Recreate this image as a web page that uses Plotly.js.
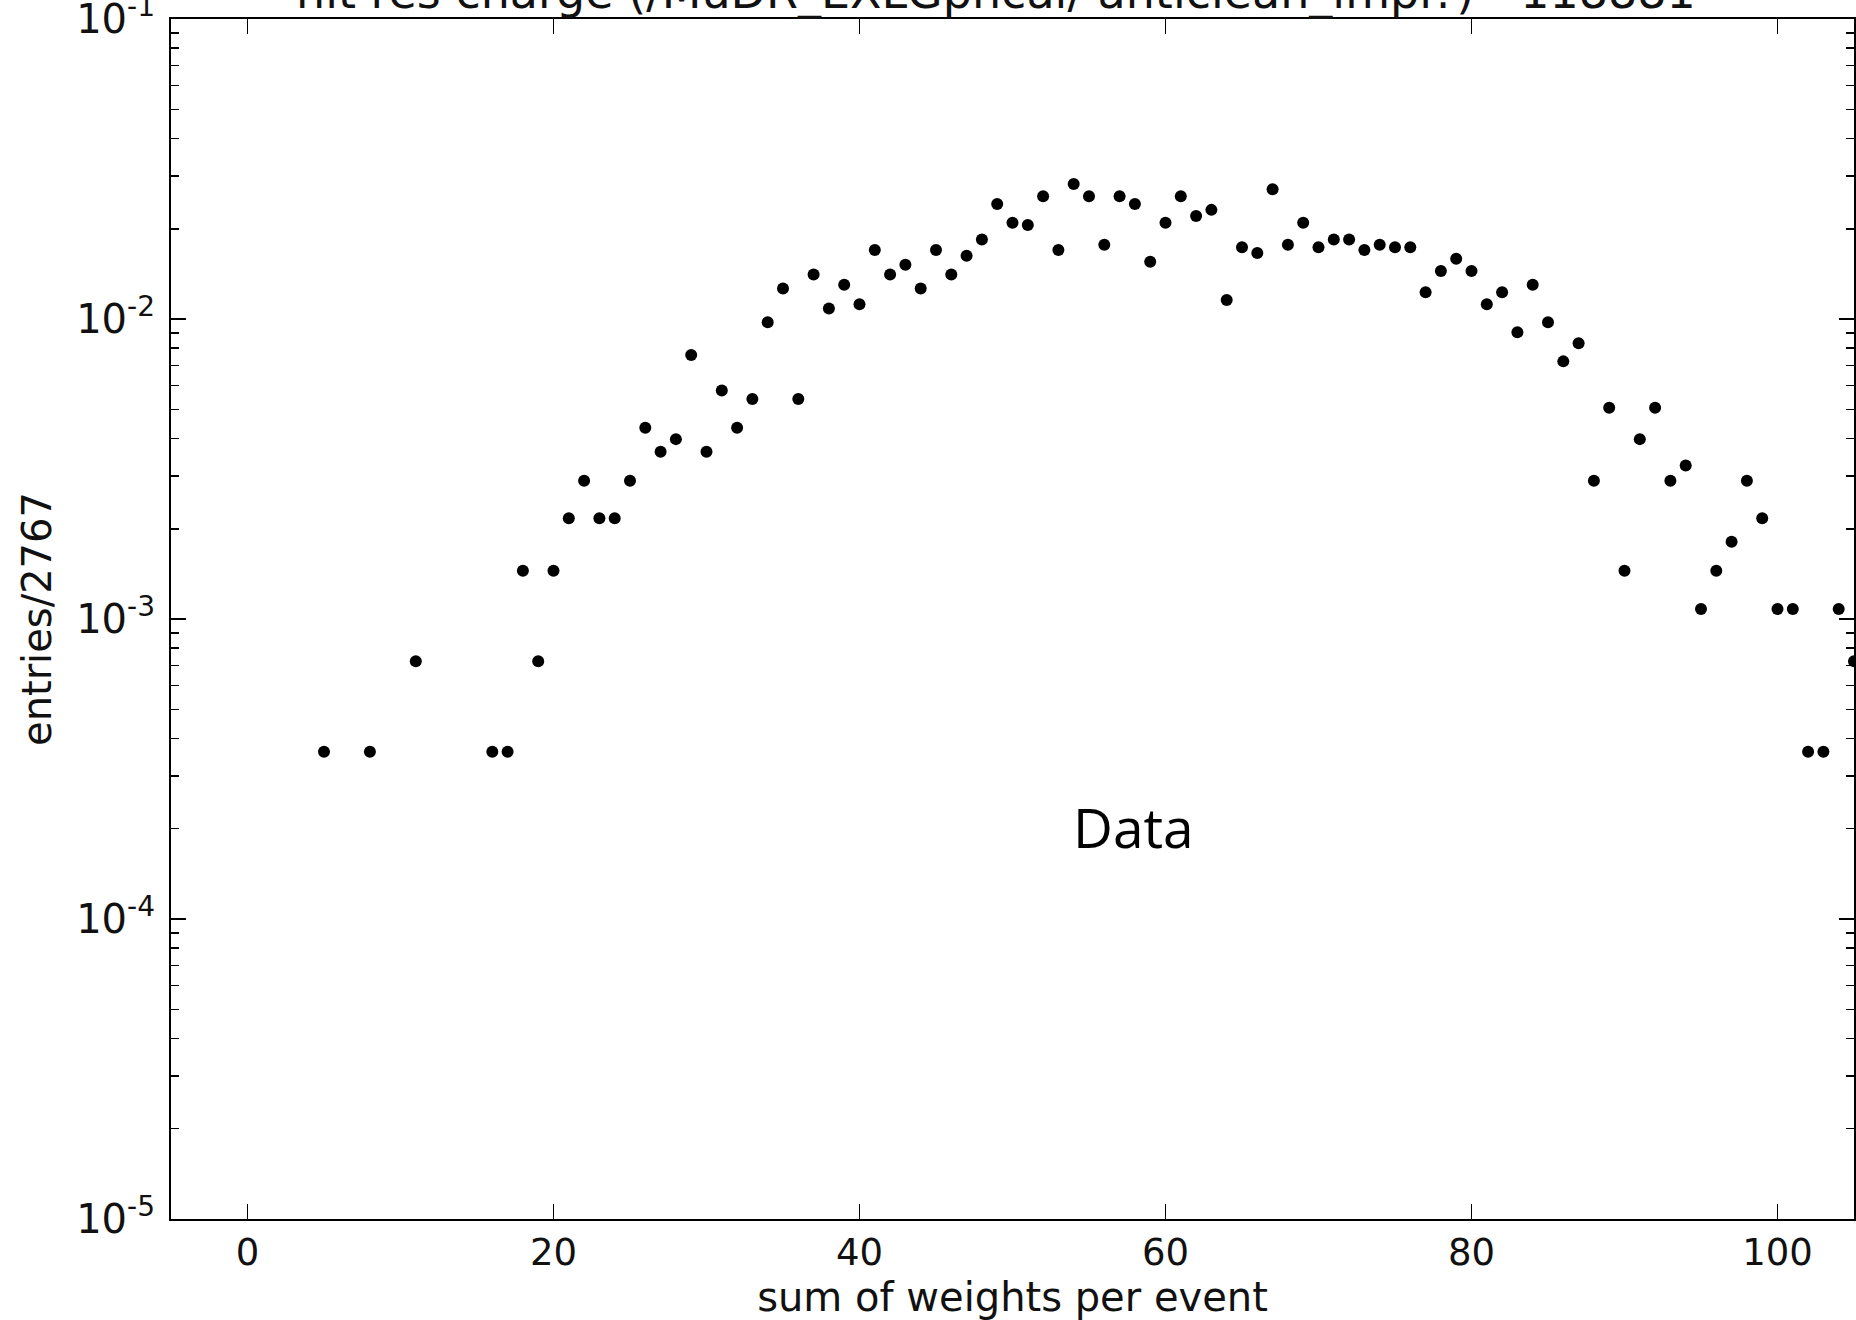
<!DOCTYPE html>
<html>
<head>
<meta charset="utf-8">
<script src="https://cdn.plot.ly/plotly-3.0.1.min.js"></script>
<style>
  html, body { margin: 0; padding: 0; background: #fff; }
  #chart { width: 1856px; height: 1320px; }
</style>
</head>
<body>
<div id="chart"></div>
<script>
// ---- data ----
const weightSums = [5, 8, 11, 16, 17, 18, 19, 20, 21, 22, 23, 24, 25, 26, 27, 28, 29, 30,
  31, 32, 33, 34, 35, 36, 37, 38, 39, 40, 41, 42, 43, 44, 45, 46, 47, 48, 49, 50,
  51, 52, 53, 54, 55, 56, 57, 58, 59, 60, 61, 62, 63, 64, 65, 66, 67, 68, 69, 70,
  71, 72, 73, 74, 75, 76, 77, 78, 79, 80, 81, 82, 83, 84, 85, 86, 87, 88, 89, 90,
  91, 92, 93, 94, 95, 96, 97, 98, 99, 100, 101, 102, 103, 104, 105];

const entriesFraction = [0.000361, 0.000361, 0.000723, 0.000361, 0.000361, 0.00145, 0.000723, 0.00145,
  0.00217, 0.00289, 0.00217, 0.00217, 0.00289, 0.00434, 0.00361, 0.00398, 0.00759, 0.00361,
  0.00578, 0.00434, 0.00542, 0.00976, 0.01265, 0.00542, 0.01409, 0.01084, 0.01301, 0.01120,
  0.01699, 0.01409, 0.01518, 0.01265, 0.01699, 0.01409, 0.01626, 0.01843, 0.02421, 0.02096,
  0.02060, 0.02566, 0.01699, 0.02819, 0.02566, 0.01771, 0.02566, 0.02421, 0.01554, 0.02096,
  0.02566, 0.02205, 0.02313, 0.01157, 0.01735, 0.01662, 0.02711, 0.01771, 0.02096, 0.01735,
  0.01843, 0.01843, 0.01699, 0.01771, 0.01735, 0.01735, 0.01229, 0.01446, 0.01590, 0.01446,
  0.01120, 0.01229, 0.00904, 0.01301, 0.00976, 0.00723, 0.00831, 0.00289, 0.00506, 0.00145,
  0.00398, 0.00506, 0.00289, 0.00325, 0.00108, 0.00145, 0.00181, 0.00289, 0.00217, 0.00108,
  0.00108, 0.000361, 0.000361, 0.00108, 0.000723];

const xTickValues = [0, 20, 40, 60, 80, 100];
const xTickLabels = ["0", "20", "40", "60", "80", "100"];
const yTickValues = [1e-5, 1e-4, 1e-3, 1e-2, 1e-1];
const yTickLabels = ["10<sup>-5</sup>", "10<sup>-4</sup>", "10<sup>-3</sup>", "10<sup>-2</sup>", "10<sup>-1</sup>"];

const chartTitle = "hit res charge (/MuDR_EXLGphcal/ anticlean_impl?) - 118881";
const xTitle = "sum of weights per event";
const yTitle = "entries/2767";
const noteText = "Data";

// minor tick positions for the log axis (2..9 x each decade)
const yMinorTicks = [];
for (let e = -5; e < -1; e++) {
  for (let m = 2; m <= 9; m++) yMinorTicks.push(m * Math.pow(10, e));
}

const xTickFont = { family: "DejaVu Sans", size: 37, color: "#111" };
const yTickFont = { family: "DejaVu Sans", size: 40, color: "#111" };
const labelFont = { family: "DejaVu Sans", size: 40, color: "#111" };

const trace = {
  type: "scatter",
  mode: "markers",
  x: weightSums,
  y: entriesFraction,
  marker: { color: "#000", size: 12, line: { width: 0 } },
  cliponaxis: true,
  hoverinfo: "x+y"
};

const layout = {
  width: 1856,
  height: 1320,
  margin: { l: 171, r: 2, t: 19, b: 101, pad: 0 },
  paper_bgcolor: "#fff",
  plot_bgcolor: "#fff",
  showlegend: false,
  font: { family: "DejaVu Sans", color: "#111" },
  xaxis: {
    type: "linear",
    range: [-5, 105],
    tickmode: "array",
    tickvals: xTickValues,
    ticktext: xTickLabels,
    ticks: "inside",
    ticklen: 15,
    tickwidth: 1.5,
    tickcolor: "#000",
    showline: true,
    linecolor: "#000",
    linewidth: 2,
    mirror: "ticks",
    showgrid: false,
    zeroline: false,
    tickfont: xTickFont,
    title: { text: xTitle, font: labelFont, standoff: 12 }
  },
  yaxis: {
    type: "log",
    range: [-5, -0.9995],
    tickmode: "array",
    tickvals: yTickValues,
    ticktext: yTickLabels,
    ticks: "inside",
    ticklen: 15,
    tickwidth: 1.5,
    tickcolor: "#000",
    showline: true,
    linecolor: "#000",
    linewidth: 2,
    mirror: "ticks",
    showgrid: false,
    zeroline: false,
    tickfont: yTickFont,
    ticklabelstandoff: 6,
    ticklabeloverflow: "allow",
    minor: { ticks: "inside", ticklen: 8, tickwidth: 1.5, tickcolor: "#000", tickmode: "array", tickvals: yMinorTicks, showgrid: false },
    title: { text: yTitle, font: labelFont, standoff: 12 }
  },
  annotations: [
    {
      text: noteText,
      xref: "paper", yref: "paper",
      x: 0.5716, y: 0.3269,
      xanchor: "center", yanchor: "middle",
      showarrow: false,
      font: { family: "Open Sans", size: 55, color: "#000" }
    },
    {
      text: chartTitle,
      xref: "paper", yref: "paper",
      x: 0.49, y: 1 - 2 / 1200,
      xanchor: "center", yanchor: "bottom",
      showarrow: false,
      font: { family: "DejaVu Sans", size: 46, color: "#111" }
    }
  ]
};

Plotly.newPlot("chart", [trace], layout, { displayModeBar: false, staticPlot: true });
</script>
</body>
</html>
